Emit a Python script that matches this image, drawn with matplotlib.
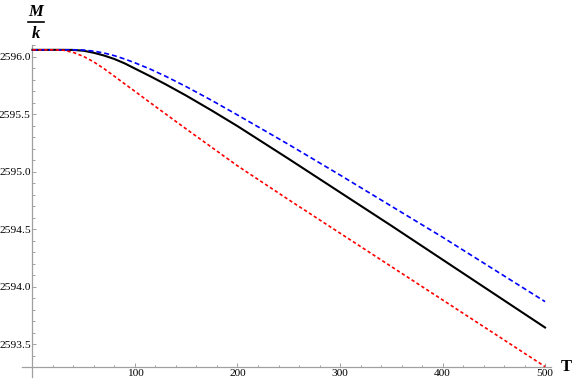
"""M/k against T for three cases, Mathematica-style axes."""

import matplotlib.pyplot as plt
from matplotlib.lines import Line2D
from matplotlib.ticker import FormatStrFormatter, MultipleLocator

# values
T = [0, 20, 30, 40, 50, 60, 70, 80, 90, 100, 115, 130, 150, 175, 200,
     250, 300, 350, 400, 450, 500]
mk_black = [2596.058, 2596.058, 2596.058, 2596.057, 2596.05, 2596.032, 2596.008,
            2595.978, 2595.94, 2595.895, 2595.828, 2595.758, 2595.66, 2595.53,
            2595.395, 2595.11, 2594.82, 2594.53, 2594.235, 2593.94, 2593.645]
mk_blue = [2596.058, 2596.058, 2596.058, 2596.058, 2596.056, 2596.046, 2596.03,
           2596.007, 2595.978, 2595.945, 2595.89, 2595.828, 2595.738, 2595.618,
           2595.492, 2595.235, 2594.97, 2594.70, 2594.43, 2594.15, 2593.87]
mk_red = [2596.058, 2596.058, 2596.055, 2596.035, 2596.00, 2595.952, 2595.893,
          2595.828, 2595.762, 2595.697, 2595.598, 2595.50, 2595.37, 2595.21,
          2595.05, 2594.755, 2594.465, 2594.175, 2593.885, 2593.595, 2593.305]

W, H = 572, 382
fig = plt.figure(figsize=(W / 100, H / 100), dpi=100)
ax = fig.add_axes([22 / W, 1 - 377 / H, (551 - 22) / W, (377 - 45) / H])

ax.plot(T, mk_black, color="black", lw=1.5, zorder=3)
ax.plot(T, mk_blue, color="blue", lw=1.2, dashes=(3, 1.8), zorder=4)
ax.plot(T, mk_red, color="red", lw=1.2, dashes=(2, 1.5), zorder=4)

ax.set_xlim(-10.2, 505.8)
ax.set_ylim(2593.215, 2596.10)

grey = "#a0a0a0"
for side in ("top", "right"):
    ax.spines[side].set_visible(False)
ax.spines["left"].set_position(("data", 0))
ax.spines["bottom"].set_position(("data", 2593.30))
for side in ("left", "bottom"):
    ax.spines[side].set_color(grey)
    ax.spines[side].set_linewidth(0.9)

ax.xaxis.set_major_locator(MultipleLocator(100))
ax.xaxis.set_minor_locator(MultipleLocator(20))
ax.yaxis.set_major_locator(MultipleLocator(0.5))
ax.yaxis.set_minor_locator(MultipleLocator(0.1))
ax.yaxis.set_major_formatter(FormatStrFormatter("%.1f"))
ax.set_xticks([100, 200, 300, 400, 500])
ax.set_yticks([2593.5, 2594.0, 2594.5, 2595.0, 2595.5, 2596.0])

ax.tick_params(which="both", direction="in", color=grey, width=0.7)
ax.tick_params(which="major", length=3.0, labelsize=8.2, pad=1.2)
ax.tick_params(which="minor", length=1.8)
for lab in ax.get_xticklabels() + ax.get_yticklabels():
    lab.set_family("Liberation Serif")

# axis labels
bold = dict(family="Liberation Serif", fontweight="bold", fontsize=12)
fig.text(36 / W, 1 - 12 / H, "M", style="italic", ha="center", va="center", **bold)
fig.text(36 / W, 1 - 34 / H, "k", style="italic", ha="center", va="center", **bold)
fig.add_artist(Line2D([28 / W, 44 / W], [1 - 22 / H, 1 - 22 / H],
                      color="black", lw=1.2, transform=fig.transFigure))
fig.text(566 / W, 1 - 367 / H, "T", ha="center", va="center", **bold)

fig.savefig("out.png", dpi=100)
